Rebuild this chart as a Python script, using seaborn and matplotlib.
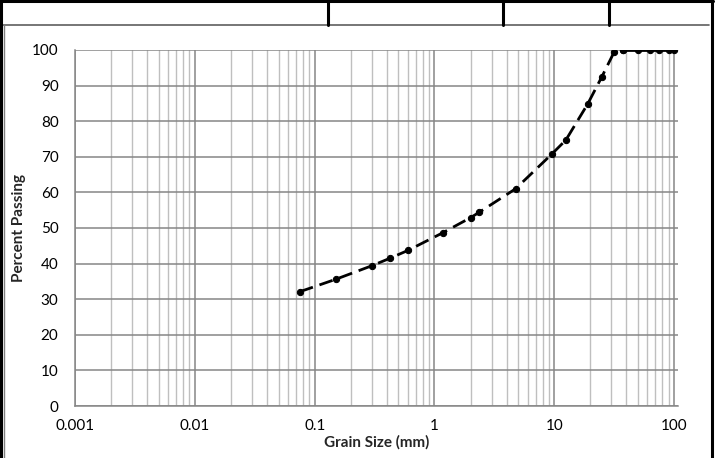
import numpy as np
import matplotlib
matplotlib.use("Agg")
import matplotlib.pyplot as plt
from matplotlib.lines import Line2D
from matplotlib.ticker import FixedLocator, FixedFormatter, LogLocator, NullFormatter
import seaborn as sns

# sieve sizes (mm) and percent passing
grain_size = [0.075, 0.15, 0.3, 0.425, 0.6, 1.18, 2.0, 2.36, 4.75, 9.5,
              12.5, 19.0, 25.0, 31.5, 37.5, 50.0, 63.0, 75.0, 90.0, 100.0]
percent_passing = [32.1, 35.6, 39.4, 41.5, 43.7, 48.7, 52.9, 54.4, 61.0, 70.7,
                   74.7, 84.8, 92.5, 99.3, 100, 100, 100, 100, 100, 100]
x_ticks = [0.001, 0.01, 0.1, 1, 10, 100]
x_tick_labels = ['0.001', '0.01', '0.1', '1', '10', '100']
y_ticks = list(range(0, 101, 10))

sns.set_style('white')
plt.rcParams['font.family'] = ['Lato', 'DejaVu Sans']

W, H = 715, 458
fig = plt.figure(figsize=(W / 100, H / 100), dpi=100)
ax = fig.add_axes([75.2 / W, (H - 406) / H, (678 - 75.2) / W, (406 - 50) / H])

split = grain_size.index(37.5)
sns.lineplot(x=grain_size[:split + 1], y=percent_passing[:split + 1], ax=ax,
             color='black', linewidth=2, linestyle=(0, (5, 2.5)),
             marker='o', markersize=4.5, markeredgecolor='black', zorder=5)
sns.lineplot(x=grain_size[split:], y=percent_passing[split:], ax=ax,
             color='black', linewidth=2, linestyle='-',
             marker='o', markersize=4.5, markeredgecolor='black', zorder=5)

ax.set_xscale('log')
ax.set_xlim(0.001, 108)
ax.set_ylim(0, 100)
ax.xaxis.set_major_locator(FixedLocator(x_ticks))
ax.xaxis.set_major_formatter(FixedFormatter(x_tick_labels))
ax.xaxis.set_minor_locator(LogLocator(base=10, subs=np.arange(2, 10), numticks=20))
ax.xaxis.set_minor_formatter(NullFormatter())
ax.set_yticks(y_ticks)

ax.grid(True, which='major', axis='both', color='#868686', linewidth=1.1)
ax.grid(True, which='minor', axis='x', color='#bfbfbf', linewidth=1.0)
ax.set_axisbelow(True)

for s in ['top', 'right']:
    ax.spines[s].set_visible(False)
for s in ['left', 'bottom']:
    ax.spines[s].set_color('#868686')
    ax.spines[s].set_linewidth(1.1)

ax.tick_params(axis='x', which='major', length=4, width=1.1, color='#868686',
               pad=5, labelsize=11, colors='black')
ax.tick_params(axis='x', which='minor', length=0)
ax.tick_params(axis='y', length=0, pad=12, labelsize=11, colors='black')

ax.set_xlabel('Grain Size (mm)', fontsize=11, fontweight='bold', labelpad=2)
ax.set_ylabel('Percent Passing', fontsize=11, fontweight='bold', labelpad=4)

# frame and empty header cells
def fline(x0, y0, x1, y1, color='black', lw=2.2):
    fig.add_artist(Line2D([x0 / W, x1 / W], [1 - y0 / H, 1 - y1 / H],
                          color=color, linewidth=lw, transform=fig.transFigure))

fline(3, 25, 709, 25, color='#5f5f5f', lw=1.2)
fline(3.5, 25, 3.5, H, color='#7f7f7f', lw=1.0)
fline(0, 1, 713, 1)
fline(1, 0, 1, H)
fline(711.5, 0, 711.5, H)
for xd in [328, 503, 609]:
    fline(xd, 0, xd, 25)

fig.savefig('out.png', dpi=100)
